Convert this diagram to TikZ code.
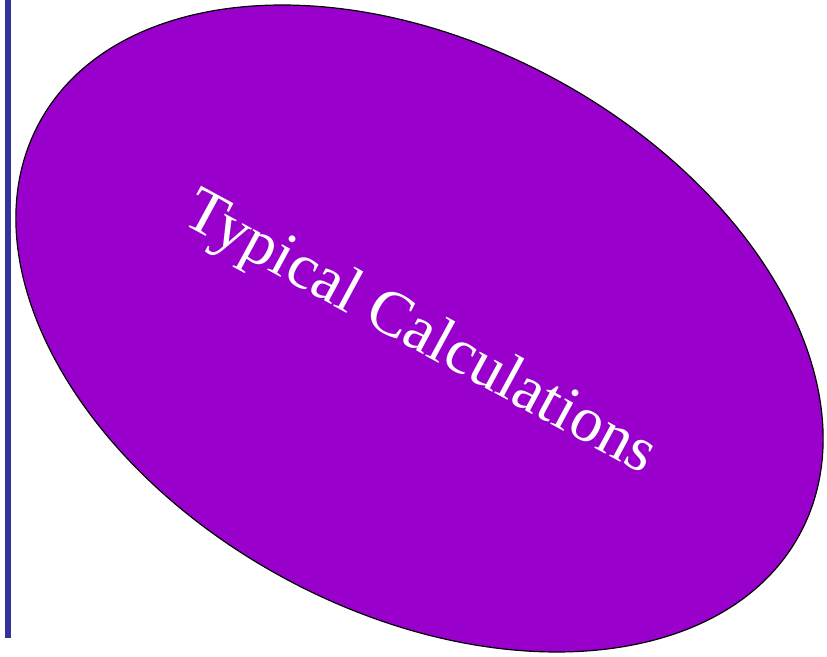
\documentclass[tikz,border=0pt]{standalone}
\usepackage{fontspec}
\setmainfont{Liberation Serif}
\usetikzlibrary{shapes.geometric}
\definecolor{barblue}{HTML}{333399}
\definecolor{ovalpurple}{HTML}{9900CC}
\tikzset{
  oval/.style={ellipse, draw=black, line width=1.2pt, fill=ovalpurple, inner sep=0pt,
    minimum width=864.6pt, minimum height=567.8pt},
  ovaltext/.style={text=white, font=\fontsize{64}{64}\selectfont, inner sep=0pt},
  bar/.style={draw=barblue, line width=6pt}
}
\begin{document}
\begin{tikzpicture}[x=1pt,y=1pt]
\useasboundingbox (0,0) rectangle (827,656);
\coordinate (bartop) at (8,656);
\coordinate (barbot) at (8,18);
\draw[bar] (bartop) -- (barbot);
\node[oval, rotate=-28.4] (oval) at (419.5,327.5) {};
\node[ovaltext, rotate=-28.5] (label) at (419,321) {Typical Calculations};
\end{tikzpicture}
\end{document}
